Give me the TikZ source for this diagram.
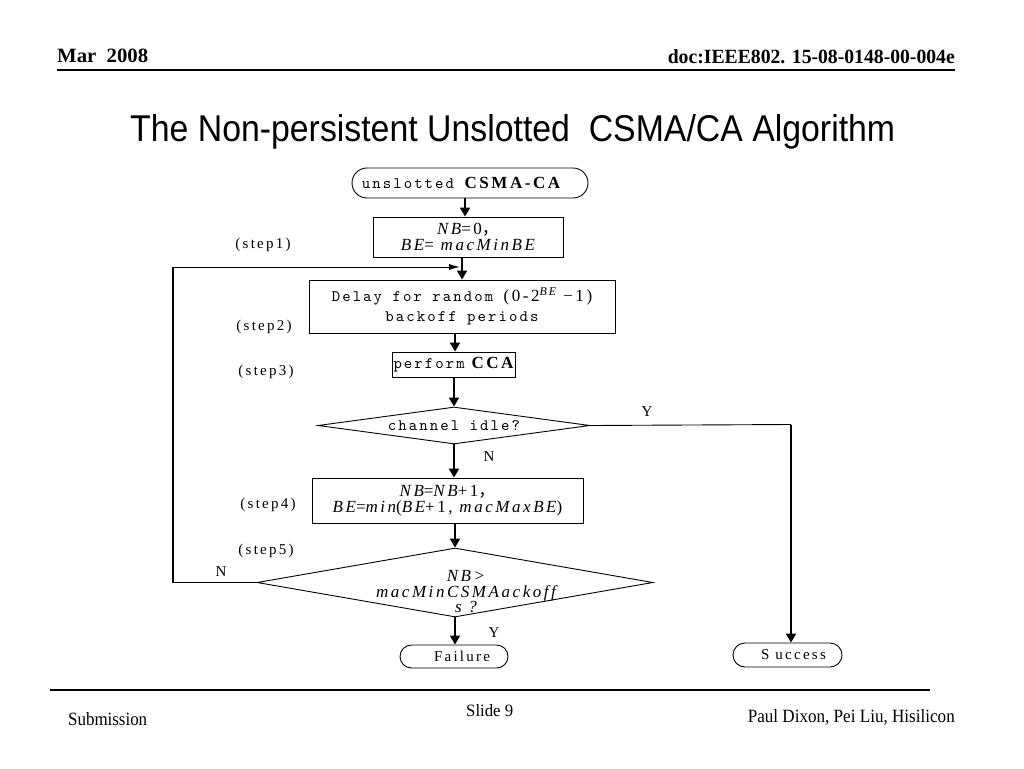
\documentclass[tikz,border=0pt]{standalone}
\usepackage{graphicx}
\usepackage{fontspec}
\setmainfont{Liberation Serif}
\newfontfamily\ttl{Liberation Sans}
\newfontfamily\mono[Extension=.otf,LetterSpace=13]{lmmono10-regular}
\newfontfamily\dser[LetterSpace=15]{Liberation Serif}
\newfontfamily\cjk{Noto Sans CJK SC}
\usetikzlibrary{arrows.meta,shapes.geometric}
\begin{document}
\begin{tikzpicture}[x=1pt,y=-1pt,
  box/.style={draw, line width=0.9pt, inner sep=0pt, align=center},
  term/.style={draw, line width=0.9pt, inner sep=0pt},
  dia/.style={diamond, draw, line width=0.9pt, inner sep=0pt},
  arr/.style={line width=2pt, -{Triangle[width=10pt,length=9pt]}},
  thinarr/.style={line width=1pt, -{Latex[length=11pt,width=6pt]}},
  lbl/.style={inner sep=0pt, font=\dser\fontsize{15}{18}\selectfont},
  mfont/.style={font=\mono\fontsize{16}{20}\selectfont},
  ifont/.style={font=\dser\fontsize{17}{15.5}\selectfont}
]
\useasboundingbox (0,0) rectangle (1024,768);
\fill[white] (0,0) rectangle (1024,768);

% header
\node[anchor=base west, inner sep=0pt] (hdl) at (57,63) {\resizebox{91pt}{13.5pt}{\bfseries Mar\ \ 2008}};
\node[anchor=base east, inner sep=0pt] (hdr) at (955,63) {\resizebox{287pt}{14pt}{\bfseries doc:IEEE802. 15-08-0148-00-004e}};
\coordinate (hl1) at (57,70);
\coordinate (hl2) at (955,70);
\draw[line width=1.2pt] (hl1) -- (hl2);

% title
\node[anchor=base west, inner sep=0pt] (title) at (130,141) {\resizebox{765pt}{27pt}{\ttl The Non-persistent Unslotted\ \ CSMA/CA Algorithm}};

% flowchart
\node[term, rounded corners=15pt, minimum width=236pt, minimum height=30pt, mfont] (start) at (470,183)
  {unslotted {\dser\fontsize{17}{18}\selectfont\bfseries CSMA-CA}\hspace*{18pt}};
\node[box, minimum width=190pt, minimum height=40pt, ifont] (b1) at (468,237)
  {{\itshape NB}=0{\cjk，}\\{\itshape BE}= {\itshape macMinBE}};
\node[box, minimum width=306pt, minimum height=53pt, mfont] (b2) at (462,306.5)
  {Delay for random {\dser\fontsize{17}{20}\selectfont (0-2\textsuperscript{\itshape BE} −1)}\\backoff periods};
\node[box, minimum width=123pt, minimum height=25pt, mfont] (b3) at (453.5,364.5)
  {perform{\dser\fontsize{17}{18}\selectfont\bfseries\ CCA}};
\node[dia, aspect=7.35, minimum width=272pt, minimum height=37pt, mfont] (d1) at (454,425.5) {channel idle?};
\node[box, minimum width=271pt, minimum height=45pt, ifont] (b4) at (447.5,500.5)
  {{\itshape NB}={\itshape NB}+1{\cjk，}\\{\itshape BE}={\itshape min}({\itshape BE}+1, {\itshape macMaxBE})};
\node[dia, aspect=5.74, minimum width=396pt, minimum height=69pt] (d2) at (455,582.5) {};
\node[inner sep=0pt, align=center, ifont] (d2t) at (466,592) {\itshape NB>\\\itshape macMinCSMAackoff\\\itshape s ?};
\node[term, rounded corners=11.5pt, minimum width=108pt, minimum height=23pt, lbl] (fail) at (454,656.5) {\hspace*{16pt}Failure};
\node[term, rounded corners=12pt, minimum width=109pt, minimum height=24pt, lbl] (succ) at (787.5,655) {\hspace*{12pt}S uccess};

% step labels
\node[lbl] (s1) at (263,245) {(step1)};
\node[lbl] (s2) at (264,327) {(step2)};
\node[lbl] (s3) at (266,372) {(step3)};
\node[lbl] (s4) at (268,505) {(step4)};
\node[lbl] (s5) at (266,551) {(step5)};
\node[lbl] (y1) at (647,412) {Y};
\node[lbl] (n1) at (489,457) {N};
\node[lbl] (n2) at (221,572) {N};
\node[lbl] (y2) at (494,633) {Y};

% connectors
\draw[arr] ([xshift=-5pt]start.south) -- ([xshift=-5pt]start.south |- b1.north);
\draw[arr] ([xshift=-6pt]b1.south) -- ([xshift=-6pt]b1.south |- b2.north);
\draw[arr] ([xshift=-7pt]b2.south) -- ([xshift=-7pt]b2.south |- b3.north);
\draw[arr] (b3.south -| d1.north) -- (d1.north);
\draw[arr] (d1.south) -- (d1.south |- b4.north);
\draw[arr] (b4.south -| d2.north) -- (d2.north);
\draw[arr] (d2.south) -- (d2.south |- fail.north);

\coordinate (yc) at (791,424.5);
\draw[line width=0.9pt] (d1.east) -- (yc);
\draw[arr] (yc) -- (yc |- succ.north);

\coordinate (lb) at (173,582.5);
\coordinate (lt) at (173,267);
\draw[line width=1.2pt] (d2.west) -- (lb) -- (lt);
\draw[thinarr] (lt) -- ([xshift=-8pt]b1.south |- lt);

% footer
\coordinate (fl1) at (50,690);
\coordinate (fl2) at (930,690);
\draw[line width=1.5pt] (fl1) -- (fl2);
\node[anchor=base west, inner sep=0pt] (sub) at (68,725) {\resizebox{79pt}{13pt}{Submission}};
\node[anchor=base west, inner sep=0pt] (sld) at (466,716) {\resizebox{47pt}{12pt}{Slide 9}};
\node[anchor=base east, inner sep=0pt] (auth) at (955,722) {\resizebox{207pt}{13pt}{Paul Dixon, Pei Liu, Hisilicon}};
\end{tikzpicture}
\end{document}
